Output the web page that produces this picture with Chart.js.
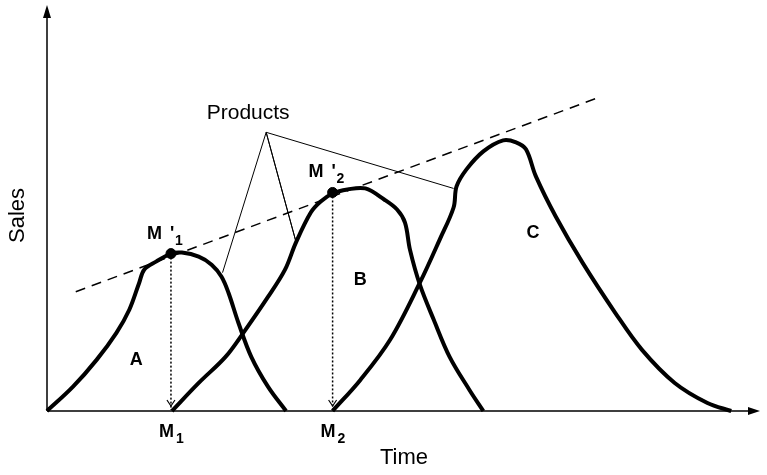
<!DOCTYPE html>
<html>
<head>
<meta charset="utf-8">
<script src="https://cdn.jsdelivr.net/npm/chart.js@4.4.1/dist/chart.umd.min.js"></script>
<style>
  html, body { margin: 0; padding: 0; background: #fff; }
  #wrap { width: 767px; height: 475px; }
</style>
</head>
<body>
<div id="wrap"><canvas id="lifeCycle"></canvas></div>
<script>
// product life cycle curves (time, sales)
const timeA  = [0, 26, 50, 70, 83, 93, 98, 110, 125, 136, 153, 166, 176, 183, 193, 206, 223, 241];
const salesA = [0, 24, 51, 78, 101, 128, 141, 149, 157, 158, 154, 146, 134, 118, 88, 54, 24, 0];

const timeB  = [126, 153, 180, 198, 223, 240, 251, 266, 276, 288, 303, 321, 340, 353, 361, 366, 376, 390, 406, 426, 440];
const salesB = [0, 28, 54, 78, 114, 141, 168, 198, 209, 217, 221, 222, 211, 201, 188, 161, 126, 91, 54, 21, 0];

const timeC  = [288, 316, 346, 376, 396, 410, 413, 423, 440, 460, 473, 483, 493, 513, 540, 573, 600, 633, 666, 690];
const salesC = [0, 31, 71, 128, 171, 203, 224, 241, 259, 270, 268, 261, 234, 194, 148, 98, 61, 28, 8, 0];

// dashed trend line through the maturity points
const trendTime  = [29, 557];
const trendSales = [119, 313];

// maturity points M'1, M'2
const peakTime  = [125, 288];
const peakSales = [157, 218];
const peakSubs  = ['1', '2'];

// "Products" callout: A -> apex -> B -> apex -> C
const calloutTime  = [177, 221, 251, 221, 410];
const calloutSales = [138, 278, 169, 278, 222];

const curveLabels = ['A', 'B', 'C'];
const curveLabelTime  = [90, 316, 490];
const curveLabelSales = [51, 131, 178];

const FONT = "'Liberation Sans', Arial, sans-serif";

const pts = (xs, ys) => xs.map((v, i) => ({ x: v, y: ys[i] }));

const curve = (xs, ys) => ({
  data: pts(xs, ys),
  showLine: true,
  borderColor: '#000',
  borderWidth: 4,
  borderJoinStyle: 'round',
  pointRadius: 0,
  tension: 0.35,
  fill: false,
  clip: false,
  order: 3
});

const drops = peakTime.map((t, i) => ({
  data: [{ x: t, y: peakSales[i] }, { x: t, y: 1 }],
  showLine: true,
  borderColor: '#000',
  borderWidth: 1.5,
  borderDash: [2, 2],
  pointRadius: 0,
  tension: 0,
  clip: false,
  order: 2
}));

const diagram = {
  id: 'diagram',
  afterDraw(chart) {
    const { ctx, scales: { x, y }, chartArea: a } = chart;
    const x0 = x.getPixelForValue(0), y0 = y.getPixelForValue(0);
    ctx.save();
    ctx.strokeStyle = '#000';
    ctx.fillStyle = '#000';

    // axes with arrows
    ctx.lineWidth = 1.5;
    ctx.beginPath();
    ctx.moveTo(x0, y0);
    ctx.lineTo(x0, a.top + 6);
    ctx.moveTo(x0, y0);
    ctx.lineTo(a.right - 8, y0);
    ctx.stroke();
    ctx.beginPath();
    ctx.moveTo(x0, a.top - 5);
    ctx.lineTo(x0 - 4, a.top + 8);
    ctx.lineTo(x0 + 4, a.top + 8);
    ctx.closePath();
    ctx.fill();
    ctx.beginPath();
    ctx.moveTo(a.right - 1, y0);
    ctx.lineTo(a.right - 13, y0 - 4);
    ctx.lineTo(a.right - 13, y0 + 4);
    ctx.closePath();
    ctx.fill();

    // chevrons at the end of the dotted drops
    ctx.lineWidth = 1.2;
    peakTime.forEach(t => {
      const px = x.getPixelForValue(t);
      ctx.beginPath();
      ctx.moveTo(px - 4, y0 - 11);
      ctx.lineTo(px, y0 - 5);
      ctx.lineTo(px + 4, y0 - 11);
      ctx.stroke();
    });

    // M'1, M'2 labels and M1, M2 ticks
    ctx.textBaseline = 'alphabetic';
    ctx.textAlign = 'left';
    peakTime.forEach((t, i) => {
      const px = x.getPixelForValue(t), py = y.getPixelForValue(peakSales[i]);
      ctx.font = 'bold 18px ' + FONT;
      ctx.fillText('M', px - 24, py - 15);
      ctx.fillText("'", px - 1, py - 15);
      ctx.font = 'bold 14px ' + FONT;
      ctx.fillText(peakSubs[i], px + 4, py - 9);

      ctx.font = 'bold 18px ' + FONT;
      ctx.fillText('M', px - 12, y0 + 26);
      ctx.font = 'bold 14px ' + FONT;
      ctx.fillText(peakSubs[i], px + 5, y0 + 32);
    });

    // A, B, C
    ctx.font = 'bold 18px ' + FONT;
    ctx.textAlign = 'center';
    ctx.textBaseline = 'middle';
    curveLabels.forEach((s, i) => {
      ctx.fillText(s, x.getPixelForValue(curveLabelTime[i]), y.getPixelForValue(curveLabelSales[i]));
    });

    // Products
    ctx.font = '21px ' + FONT;
    ctx.textBaseline = 'alphabetic';
    ctx.fillText('Products', x.getPixelForValue(calloutTime[1]) - 18, y.getPixelForValue(calloutSales[1]) - 13);

    // axis titles
    ctx.font = '22px ' + FONT;
    ctx.fillText('Time', (a.left + a.right) / 2, y0 + 53);
    ctx.translate(18, (a.top + a.bottom) / 2 + 5);
    ctx.rotate(-Math.PI / 2);
    ctx.textBaseline = 'middle';
    ctx.fillText('Sales', 0, 0);
    ctx.restore();
  }
};

new Chart(document.getElementById('lifeCycle'), {
  type: 'scatter',
  data: {
    datasets: [
      curve(timeA, salesA),
      curve(timeB, salesB),
      curve(timeC, salesC),
      {
        data: pts(trendTime, trendSales),
        showLine: true,
        borderColor: '#000',
        borderWidth: 1.5,
        borderDash: [10, 7],
        pointRadius: 0,
        clip: false,
        order: 4
      },
      {
        data: pts(calloutTime, calloutSales),
        showLine: true,
        borderColor: '#000',
        borderWidth: 1,
        pointRadius: 0,
        tension: 0,
        clip: false,
        order: 4
      },
      ...drops,
      {
        data: pts(peakTime, peakSales),
        showLine: false,
        pointRadius: 5,
        pointBackgroundColor: '#000',
        pointBorderColor: '#000',
        clip: false,
        order: 1
      }
    ]
  },
  options: {
    responsive: true,
    maintainAspectRatio: false,
    animation: false,
    layout: { padding: { left: 47, right: 0, top: 10, bottom: 64 } },
    plugins: { legend: { display: false }, tooltip: { enabled: false } },
    scales: {
      x: { type: 'linear', min: 0, max: 720, display: false },
      y: { type: 'linear', min: 0, max: 400, display: false }
    }
  },
  plugins: [diagram]
});
</script>
</body>
</html>
